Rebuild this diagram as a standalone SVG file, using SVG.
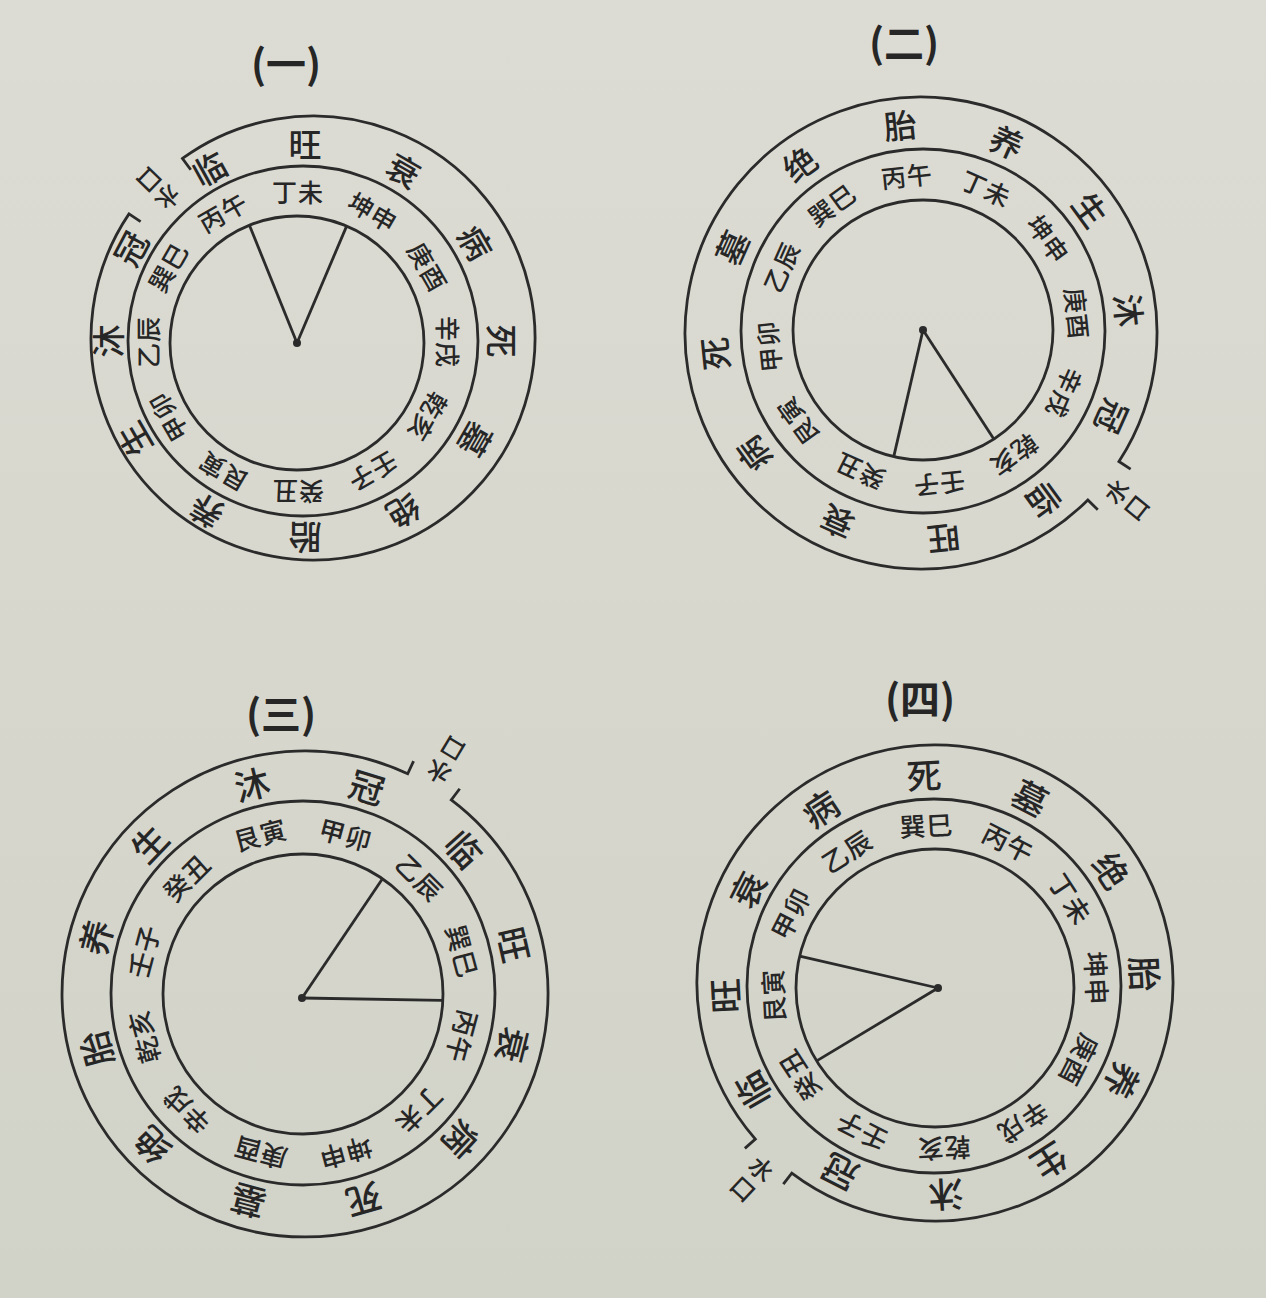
<svg xmlns="http://www.w3.org/2000/svg" width="1266" height="1298" viewBox="0 0 1266 1298">
<defs>
<linearGradient id="bg" x1="0" y1="0" x2="0" y2="1">
<stop offset="0" stop-color="#dddcd4"/>
<stop offset="1" stop-color="#d1d2c8"/>
</linearGradient>
<style>
.ln{fill:none;stroke:#2b2b2b;stroke-width:2.8}
.dot{fill:#2b2b2b}
.st{font-family:"Noto Sans CJK SC","Noto Sans CJK JP",sans-serif;font-size:33px;font-weight:500;fill:#262626;text-anchor:middle;dominant-baseline:central}
.stb{font-size:35px}
.pr{font-family:"Noto Sans CJK SC","Noto Sans CJK JP",sans-serif;font-size:25px;font-weight:500;letter-spacing:1px;fill:#262626;text-anchor:middle;dominant-baseline:central}
.prb{font-size:26px}
.sk{font-family:"Noto Sans CJK SC","Noto Sans CJK JP",sans-serif;font-size:24px;font-weight:500;fill:#262626;text-anchor:middle;dominant-baseline:central}
.tt{font-family:"Noto Sans CJK SC","Noto Sans CJK JP",sans-serif;font-size:40px;font-weight:700;fill:#262626;text-anchor:middle;dominant-baseline:central}
</style>
</defs>
<rect width="1266" height="1298" fill="url(#bg)"/>

<g id="d1">
<text class="tt" x="286" y="62">(一)</text>
<circle class="ln" cx="297" cy="343" r="127"/>
<circle class="ln" cx="303" cy="341" r="175"/>
<g transform="rotate(314 313 338)">
<path class="ln" d="M349.1,133.2 L351.5,119.4 A222,222 0 1 1 274.5,119.4 L276.9,133.2"/>
<text class="sk" x="313" y="137" transform="rotate(180 313 137)">水</text>
<text class="sk" x="313" y="112" transform="rotate(180 313 112)">口</text>
</g>
<g id="d1-stages">
<text class="st" x="305" y="143" transform="rotate(0 305 341)">旺</text>
<text class="st" x="305" y="143" transform="rotate(30 305 341)">衰</text>
<text class="st" x="305" y="143" transform="rotate(60 305 341)">病</text>
<text class="st" x="305" y="143" transform="rotate(90 305 341)">死</text>
<text class="st" x="305" y="143" transform="rotate(120 305 341)">墓</text>
<text class="st" x="305" y="143" transform="rotate(150 305 341)">绝</text>
<text class="st" x="305" y="143" transform="rotate(180 305 341)">胎</text>
<text class="st" x="305" y="143" transform="rotate(210 305 341)">养</text>
<text class="st" x="305" y="143" transform="rotate(240 305 341)">生</text>
<text class="st" x="305" y="143" transform="rotate(270 305 341)">沐</text>
<text class="st" x="305" y="143" transform="rotate(298 305 341)">冠</text>
<text class="st" x="305" y="143" transform="rotate(331 305 341)">临</text>
</g>
<g id="d1-pairs">
<text class="pr" x="298" y="191" transform="rotate(0 298 342)">丁未</text>
<text class="pr" x="298" y="191" transform="rotate(30 298 342)">坤申</text>
<text class="pr" x="298" y="191" transform="rotate(60 298 342)">庚酉</text>
<text class="pr" x="298" y="191" transform="rotate(90 298 342)">辛戌</text>
<text class="pr" x="298" y="191" transform="rotate(120 298 342)">乾亥</text>
<text class="pr" x="298" y="191" transform="rotate(150 298 342)">壬子</text>
<text class="pr" x="298" y="191" transform="rotate(180 298 342)">癸丑</text>
<text class="pr" x="298" y="191" transform="rotate(210 298 342)">艮寅</text>
<text class="pr" x="298" y="191" transform="rotate(240 298 342)">甲卯</text>
<text class="pr" x="298" y="191" transform="rotate(270 298 342)">乙辰</text>
<text class="pr" x="298" y="191" transform="rotate(300 298 342)">巽巳</text>
<text class="pr" x="298" y="191" transform="rotate(330 298 342)">丙午</text>
</g>
<circle class="dot" cx="297" cy="343" r="4"/>
</g>

<g id="d2">
<text class="tt" x="904" y="41">(二)</text>
<circle class="ln" cx="923" cy="330" r="130"/>
<circle class="ln" cx="923" cy="331" r="182"/>
<g transform="rotate(129 921 333)">
<path class="ln" d="M947.1,84.4 L945.7,98.3 A236,236 0 1 1 896.3,98.3 L894.9,84.4"/>
<text class="sk" x="921" y="83" transform="rotate(180 921 83)">水</text>
<text class="sk" x="921" y="57" transform="rotate(180 921 57)">口</text>
</g>
<g id="d2-stages">
<text class="st" x="922" y="123" transform="rotate(-6 922 332)">胎</text>
<text class="st" x="922" y="123" transform="rotate(24 922 332)">养</text>
<text class="st" x="922" y="123" transform="rotate(54 922 332)">生</text>
<text class="st" x="922" y="123" transform="rotate(84 922 332)">沐</text>
<text class="st" x="922" y="123" transform="rotate(114 922 332)">冠</text>
<text class="st" x="922" y="123" transform="rotate(144 922 332)">临</text>
<text class="st" x="922" y="123" transform="rotate(174 922 332)">旺</text>
<text class="st" x="922" y="123" transform="rotate(204 922 332)">衰</text>
<text class="st" x="922" y="123" transform="rotate(234 922 332)">病</text>
<text class="st" x="922" y="123" transform="rotate(264 922 332)">死</text>
<text class="st" x="922" y="123" transform="rotate(294 922 332)">墓</text>
<text class="st" x="922" y="123" transform="rotate(324 922 332)">绝</text>
</g>
<g id="d2-pairs">
<text class="pr" x="923" y="174" transform="rotate(-6 923 330)">丙午</text>
<text class="pr" x="923" y="174" transform="rotate(24 923 330)">丁未</text>
<text class="pr" x="923" y="174" transform="rotate(54 923 330)">坤申</text>
<text class="pr" x="923" y="174" transform="rotate(84 923 330)">庚酉</text>
<text class="pr" x="923" y="174" transform="rotate(114 923 330)">辛戌</text>
<text class="pr" x="923" y="174" transform="rotate(144 923 330)">乾亥</text>
<text class="pr" x="923" y="174" transform="rotate(174 923 330)">壬子</text>
<text class="pr" x="923" y="174" transform="rotate(204 923 330)">癸丑</text>
<text class="pr" x="923" y="174" transform="rotate(234 923 330)">艮寅</text>
<text class="pr" x="923" y="174" transform="rotate(264 923 330)">甲卯</text>
<text class="pr" x="923" y="174" transform="rotate(294 923 330)">乙辰</text>
<text class="pr" x="923" y="174" transform="rotate(324 923 330)">巽巳</text>
</g>
<circle class="dot" cx="923" cy="330" r="4"/>
</g>

<g id="d3">
<text class="tt" x="281" y="712">(三)</text>
<circle class="ln" cx="303" cy="994" r="140"/>
<circle class="ln" cx="303" cy="993" r="192"/>
<g transform="rotate(31 305 994)">
<path class="ln" d="M331.9,738.4 L330.4,752.3 A243,243 0 1 1 279.6,752.3 L278.1,738.4"/>
<text class="sk" x="305" y="736" transform="rotate(180 305 736)">水</text>
<text class="sk" x="305" y="709" transform="rotate(180 305 709)">口</text>
</g>
<g id="d3-stages">
<text class="st stb" x="304" y="776" transform="rotate(-14 304 993)">沐</text>
<text class="st stb" x="304" y="776" transform="rotate(17 304 993)">冠</text>
<text class="st stb" x="304" y="776" transform="rotate(48 304 993)">临</text>
<text class="st stb" x="304" y="776" transform="rotate(77 304 993)">旺</text>
<text class="st stb" x="304" y="776" transform="rotate(104 304 993)">衰</text>
<text class="st stb" x="304" y="776" transform="rotate(133 304 993)">病</text>
<text class="st stb" x="304" y="776" transform="rotate(164 304 993)">死</text>
<text class="st stb" x="304" y="776" transform="rotate(195 304 993)">墓</text>
<text class="st stb" x="304" y="776" transform="rotate(225 304 993)">绝</text>
<text class="st stb" x="304" y="776" transform="rotate(255 304 993)">胎</text>
<text class="st stb" x="304" y="776" transform="rotate(285 304 993)">养</text>
<text class="st stb" x="304" y="776" transform="rotate(314 304 993)">生</text>
</g>
<g id="d3-pairs">
<text class="pr prb" x="303" y="828" transform="rotate(-15 303 994)">艮寅</text>
<text class="pr prb" x="303" y="828" transform="rotate(15 303 994)">甲卯</text>
<text class="pr prb" x="303" y="828" transform="rotate(45 303 994)">乙辰</text>
<text class="pr prb" x="303" y="828" transform="rotate(75 303 994)">巽巳</text>
<text class="pr prb" x="303" y="828" transform="rotate(105 303 994)">丙午</text>
<text class="pr prb" x="303" y="828" transform="rotate(135 303 994)">丁未</text>
<text class="pr prb" x="303" y="828" transform="rotate(165 303 994)">坤申</text>
<text class="pr prb" x="303" y="828" transform="rotate(195 303 994)">庚酉</text>
<text class="pr prb" x="303" y="828" transform="rotate(225 303 994)">辛戌</text>
<text class="pr prb" x="303" y="828" transform="rotate(255 303 994)">乾亥</text>
<text class="pr prb" x="303" y="828" transform="rotate(285 303 994)">壬子</text>
<text class="pr prb" x="303" y="828" transform="rotate(315 303 994)">癸丑</text>
</g>
<circle class="dot" cx="302" cy="998" r="4"/>
</g>

<g id="d4">
<text class="tt" x="920" y="697">(四)</text>
<circle class="ln" cx="935" cy="988" r="139"/>
<circle class="ln" cx="934" cy="986" r="187"/>
<g transform="rotate(223 935 983)">
<path class="ln" d="M961.3,732.4 L959.9,746.3 A238,238 0 1 1 910.1,746.3 L908.7,732.4"/>
<text class="sk" x="935" y="730" transform="rotate(180 935 730)">水</text>
<text class="sk" x="935" y="703" transform="rotate(180 935 703)">口</text>
</g>
<g id="d4-stages">
<text class="st stb" x="935" y="773" transform="rotate(-3 935 985)">死</text>
<text class="st stb" x="935" y="773" transform="rotate(27 935 985)">墓</text>
<text class="st stb" x="935" y="773" transform="rotate(57 935 985)">绝</text>
<text class="st stb" x="935" y="773" transform="rotate(87 935 985)">胎</text>
<text class="st stb" x="935" y="773" transform="rotate(117 935 985)">养</text>
<text class="st stb" x="935" y="773" transform="rotate(147 935 985)">生</text>
<text class="st stb" x="935" y="773" transform="rotate(177 935 985)">沐</text>
<text class="st stb" x="935" y="773" transform="rotate(207 935 985)">冠</text>
<text class="st stb" x="935" y="773" transform="rotate(240 935 985)">临</text>
<text class="st stb" x="935" y="773" transform="rotate(267 935 985)">旺</text>
<text class="st stb" x="935" y="773" transform="rotate(297 935 985)">衰</text>
<text class="st stb" x="935" y="773" transform="rotate(327 935 985)">病</text>
</g>
<g id="d4-pairs">
<text class="pr prb" x="935" y="824" transform="rotate(-3 935 987)">巽巳</text>
<text class="pr prb" x="935" y="824" transform="rotate(27 935 987)">丙午</text>
<text class="pr prb" x="935" y="824" transform="rotate(57 935 987)">丁未</text>
<text class="pr prb" x="935" y="824" transform="rotate(87 935 987)">坤申</text>
<text class="pr prb" x="935" y="824" transform="rotate(117 935 987)">庚酉</text>
<text class="pr prb" x="935" y="824" transform="rotate(147 935 987)">辛戌</text>
<text class="pr prb" x="935" y="824" transform="rotate(177 935 987)">乾亥</text>
<text class="pr prb" x="935" y="824" transform="rotate(207 935 987)">壬子</text>
<text class="pr prb" x="935" y="824" transform="rotate(237 935 987)">癸丑</text>
<text class="pr prb" x="935" y="824" transform="rotate(267 935 987)">艮寅</text>
<text class="pr prb" x="935" y="824" transform="rotate(297 935 987)">甲卯</text>
<text class="pr prb" x="935" y="824" transform="rotate(327 935 987)">乙辰</text>
</g>
<circle class="dot" cx="938" cy="988" r="4"/>
</g>

<g id="connectors">
<line class="ln" x1="297" y1="343" x2="297" y2="216" transform="rotate(-22 297 343)"/>
<line class="ln" x1="297" y1="343" x2="297" y2="216" transform="rotate(23 297 343)"/>
<line class="ln" x1="923" y1="330" x2="923" y2="200" transform="rotate(147 923 330)"/>
<line class="ln" x1="923" y1="330" x2="923" y2="200" transform="rotate(193 923 330)"/>
<line class="ln" x1="302" y1="998" x2="302" y2="855" transform="rotate(34 302 998)"/>
<line class="ln" x1="302" y1="998" x2="302" y2="858" transform="rotate(91 302 998)"/>
<line class="ln" x1="938" y1="988" x2="938" y2="846" transform="rotate(239 938 988)"/>
<line class="ln" x1="938" y1="988" x2="938" y2="846" transform="rotate(283 938 988)"/>
</g>
</svg>
